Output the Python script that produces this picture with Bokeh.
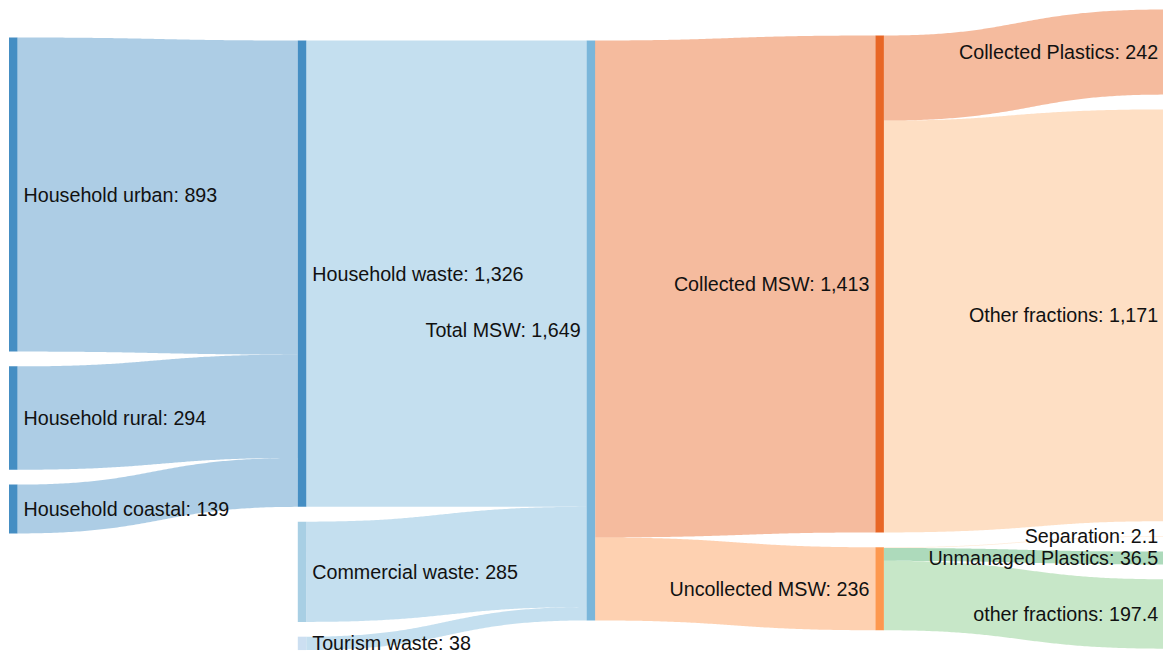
import numpy as np
from bokeh.plotting import figure
from bokeh.models import Range1d, ColumnDataSource
from bokeh.core.properties import value
from bokeh.embed import file_html
from bokeh.resources import INLINE

# ---------------- data ----------------
node_names = ["Household urban", "Household rural", "Household coastal",
              "Household waste", "Total MSW", "Commercial waste", "Tourism waste",
              "Collected MSW", "Uncollected MSW",
              "Collected Plastics", "Other fractions", "Separation",
              "Unmanaged Plastics", "other fractions"]
node_columns = [0, 0, 0, 1, 2, 1, 1, 3, 3, 4, 4, 4, 4, 4]

link_sources = ["Household urban", "Household rural", "Household coastal",
                "Household waste", "Commercial waste", "Tourism waste",
                "Total MSW", "Total MSW",
                "Collected MSW", "Collected MSW",
                "Uncollected MSW", "Uncollected MSW", "Uncollected MSW"]
link_targets = ["Household waste", "Household waste", "Household waste",
                "Total MSW", "Total MSW", "Total MSW",
                "Collected MSW", "Uncollected MSW",
                "Collected Plastics", "Other fractions",
                "Separation", "Unmanaged Plastics", "other fractions"]
link_values = [893, 294, 139, 1326, 285, 38, 1413, 236, 242, 1171, 2.1, 36.5, 197.4]

palette = ["#3182bd", "#6baed6", "#9ecae1", "#c6dbef", "#e6550d", "#fd8d3c",
           "#fdae6b", "#fdd0a2", "#31a354", "#74c476", "#a1d99b", "#c7e9c0"]

# ---------------- layout parameters ----------------
W, H = 1163, 652
k = 0.3517            # pixels per unit
node_w = 8.5
col_x0 = 8.5
col_step = 288.8
pad = 14.8
col_top = [37, 40, 40, 35, 9.0]

# group colours by first word
groups = []
for n in node_names:
    g = n.split(" ")[0]
    if g not in groups:
        groups.append(g)
color_of = {n: palette[groups.index(n.split(" ")[0]) % len(palette)] for n in node_names}

# node values
vin = {n: 0.0 for n in node_names}
vout = {n: 0.0 for n in node_names}
for s, t, v in zip(link_sources, link_targets, link_values):
    vout[s] += v
    vin[t] += v
nval = {n: max(vin[n], vout[n]) for n in node_names}

# node positions
pos = {}
for c in range(5):
    y = col_top[c]
    for n, cc in zip(node_names, node_columns):
        if cc != c:
            continue
        h = nval[n] * k
        x0 = col_x0 + c * col_step
        pos[n] = dict(x0=x0, x1=x0 + node_w, y0=y, y1=y + h, col=c)
        y += h + pad

# link positions
links = list(zip(link_sources, link_targets, link_values))
src_off = {n: pos[n]["y0"] for n in node_names}
tgt_off = {n: pos[n]["y0"] for n in node_names}
lk = {}
for n in node_names:
    outs = sorted([i for i, l in enumerate(links) if l[0] == n], key=lambda i: pos[links[i][1]]["y0"])
    for i in outs:
        w = links[i][2] * k
        lk.setdefault(i, {})["sy"] = src_off[n] + w / 2
        src_off[n] += w
    ins = sorted([i for i, l in enumerate(links) if l[1] == n], key=lambda i: pos[links[i][0]]["y0"])
    for i in ins:
        w = links[i][2] * k
        lk.setdefault(i, {})["ty"] = tgt_off[n] + w / 2
        tgt_off[n] += w

xs, ys, lc = [], [], []
t = np.linspace(0, 1, 120)
for i, (s, tg, v) in enumerate(links):
    w = v * k
    x0 = pos[s]["x1"]; x1 = pos[tg]["x0"]; xm = (x0 + x1) / 2
    y0 = lk[i]["sy"]; y1 = lk[i]["ty"]
    bx = (1 - t) ** 3 * x0 + 3 * (1 - t) ** 2 * t * xm + 3 * (1 - t) * t ** 2 * xm + t ** 3 * x1
    by = (1 - t) ** 3 * y0 + 3 * (1 - t) ** 2 * t * y0 + 3 * (1 - t) * t ** 2 * y1 + t ** 3 * y1
    dx = np.gradient(bx); dy = np.gradient(by)
    L = np.hypot(dx, dy)
    nx = -dy / L; ny = dx / L
    topx = bx - nx * w / 2; topy = by - ny * w / 2
    botx = bx + nx * w / 2; boty = by + ny * w / 2
    xs.append(list(topx) + list(botx[::-1]))
    ys.append(list(topy) + list(boty[::-1]))
    lc.append(color_of[tg])

p = figure(width=W, height=H, x_range=Range1d(0, W), y_range=Range1d(H, 0),
           output_backend="svg", toolbar_location=None, min_border=0)
p.axis.visible = False
p.grid.visible = False
p.outline_line_color = None
p.background_fill_color = "white"
p.border_fill_color = "white"

p.patches(xs=xs, ys=ys, fill_color=lc, fill_alpha=0.4, line_color=None)

nsrc = ColumnDataSource(dict(
    left=[pos[n]["x0"] for n in node_names],
    right=[pos[n]["x1"] for n in node_names],
    top=[pos[n]["y0"] for n in node_names],
    bottom=[pos[n]["y1"] for n in node_names],
    color=[color_of[n] for n in node_names],
))
p.quad(left="left", right="right", top="top", bottom="bottom", source=nsrc,
       fill_color="color", fill_alpha=0.9, line_color=None)


def fmt(v):
    if abs(v - round(v)) < 1e-6:
        return f"{int(round(v)):,}"
    return f"{v:,.1f}"


lx, ly, lt, la = [], [], [], []
for n in node_names:
    d = pos[n]
    if d["col"] < 2:
        lx.append(d["x1"] + 6); la.append("left")
    else:
        lx.append(d["x0"] - 6); la.append("right")
    ly.append(min((d["y0"] + d["y1"]) / 2, H - 10))
    lt.append(f"{n}: {fmt(nval[n])}")

tsrc = ColumnDataSource(dict(x=lx, y=ly, text=lt, align=la))
p.text(x="x", y="y", text="text", text_align="align", source=tsrc,
       text_baseline="middle", text_font=value("Liberation Sans"),
       text_font_size="19.7px", text_color="#111111")

open("out.html", "w").write(file_html(p, INLINE))
